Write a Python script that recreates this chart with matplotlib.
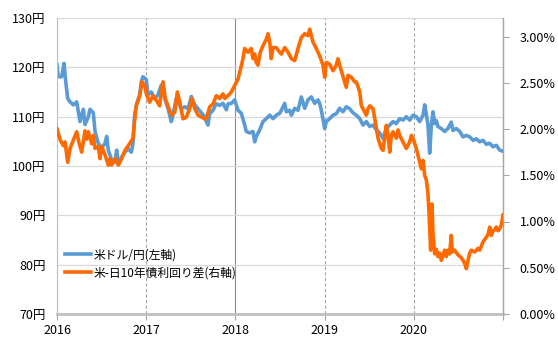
import matplotlib
matplotlib.use("Agg")
import matplotlib.pyplot as plt
import numpy as np

plt.rcParams['font.family'] = ['Noto Sans CJK JP', 'DejaVu Sans']

# 米ドル/円 (左軸) : 時点(年)と値
usd_t = [2016.000, 2016.015, 2016.053, 2016.078, 2016.098, 2016.120, 2016.146, 2016.183, 2016.221, 2016.258,
         2016.295, 2016.314, 2016.351, 2016.370, 2016.407, 2016.426, 2016.463, 2016.501, 2016.538, 2016.557,
         2016.575, 2016.613, 2016.650, 2016.669, 2016.687, 2016.725, 2016.762, 2016.799, 2016.833, 2016.852,
         2016.871, 2016.889, 2016.927, 2016.945, 2016.964, 2017.001, 2017.020, 2017.057, 2017.095, 2017.132,
         2017.169, 2017.207, 2017.244, 2017.281, 2017.300, 2017.337, 2017.356, 2017.393, 2017.432, 2017.469,
         2017.506, 2017.544, 2017.581, 2017.618, 2017.656, 2017.674, 2017.693, 2017.712, 2017.749, 2017.786,
         2017.824, 2017.861, 2017.898, 2017.917, 2017.954, 2017.992, 2018.010, 2018.029, 2018.066, 2018.104,
         2018.122, 2018.160, 2018.197, 2018.216, 2018.234, 2018.272, 2018.309, 2018.346, 2018.385, 2018.422,
         2018.459, 2018.497, 2018.515, 2018.553, 2018.571, 2018.609, 2018.627, 2018.665, 2018.702, 2018.739,
         2018.777, 2018.814, 2018.851, 2018.889, 2018.926, 2018.945, 2018.963, 2019.001, 2019.019, 2019.057,
         2019.094, 2019.131, 2019.169, 2019.206, 2019.243, 2019.281, 2019.318, 2019.355, 2019.394, 2019.430,
         2019.468, 2019.506, 2019.543, 2019.580, 2019.618, 2019.655, 2019.692, 2019.730, 2019.767, 2019.804,
         2019.842, 2019.879, 2019.916, 2019.954, 2019.991, 2020.028, 2020.066, 2020.103, 2020.122, 2020.140,
         2020.159, 2020.178, 2020.196, 2020.215, 2020.234, 2020.252, 2020.271, 2020.308, 2020.346, 2020.383,
         2020.420, 2020.439, 2020.476, 2020.515, 2020.552, 2020.589, 2020.627, 2020.664, 2020.701, 2020.739,
         2020.776, 2020.813, 2020.851, 2020.888, 2020.925, 2020.963, 2021.000]
usd_jpy = [120.5, 118.1, 118.1, 120.8, 117.1, 113.7, 113.0, 112.4, 113.0, 109.0,
           111.5, 108.4, 110.0, 111.5, 110.8, 107.0, 104.6, 103.6, 104.6, 106.0,
           103.2, 101.2, 100.8, 103.2, 100.5, 101.8, 102.8, 103.5, 102.8, 104.6,
           110.3, 112.4, 114.4, 117.1, 118.1, 117.5, 114.4, 115.0, 113.7, 114.4,
           116.4, 113.7, 111.7, 109.0, 110.3, 113.7, 113.0, 111.6, 112.0, 111.6,
           114.1, 112.4, 111.6, 110.8, 110.0, 109.0, 108.3, 110.6, 111.3, 112.6,
           112.3, 112.7, 111.4, 112.6, 112.7, 113.4, 112.4, 111.3, 110.7, 108.3,
           107.0, 106.7, 107.0, 104.9, 106.0, 107.3, 109.0, 109.6, 110.3, 109.6,
           110.3, 110.7, 111.3, 112.7, 111.0, 111.3, 110.3, 111.7, 111.3, 114.0,
           111.7, 113.4, 114.0, 112.7, 113.4, 112.7, 111.3, 107.6, 109.0, 109.6,
           110.3, 110.6, 111.7, 111.0, 112.0, 111.6, 110.8, 110.3, 109.6, 108.3,
           109.0, 108.0, 108.3, 107.3, 106.7, 105.6, 107.6, 108.3, 109.0, 108.6,
           109.6, 109.3, 110.0, 109.3, 110.3, 110.0, 109.0, 110.3, 112.4, 110.5,
           108.3, 102.6, 108.0, 111.0, 108.6, 109.2, 108.0, 107.6, 107.0, 107.6,
           108.9, 107.2, 107.6, 107.0, 105.9, 106.2, 105.9, 105.2, 105.5, 104.9,
           105.2, 104.4, 104.6, 103.9, 104.2, 103.2, 103.0]

# 米-日10年債利回り差 (右軸, %)
spread_t = [2016.000, 2016.037, 2016.071, 2016.090, 2016.120, 2016.146, 2016.183, 2016.221, 2016.247, 2016.277,
            2016.314, 2016.333, 2016.351, 2016.389, 2016.407, 2016.426, 2016.463, 2016.482, 2016.501, 2016.538,
            2016.575, 2016.594, 2016.613, 2016.650, 2016.687, 2016.725, 2016.762, 2016.799, 2016.852, 2016.871,
            2016.889, 2016.927, 2016.953, 2016.983, 2017.001, 2017.039, 2017.076, 2017.113, 2017.151, 2017.169,
            2017.188, 2017.214, 2017.244, 2017.281, 2017.320, 2017.349, 2017.376, 2017.413, 2017.450, 2017.488,
            2017.513, 2017.544, 2017.581, 2017.618, 2017.656, 2017.674, 2017.712, 2017.749, 2017.786, 2017.824,
            2017.861, 2017.880, 2017.917, 2017.954, 2017.992, 2018.029, 2018.048, 2018.085, 2018.104, 2018.141,
            2018.178, 2018.197, 2018.216, 2018.234, 2018.253, 2018.279, 2018.309, 2018.346, 2018.365, 2018.385,
            2018.402, 2018.422, 2018.459, 2018.497, 2018.515, 2018.553, 2018.590, 2018.627, 2018.665, 2018.702,
            2018.739, 2018.777, 2018.814, 2018.833, 2018.851, 2018.870, 2018.907, 2018.945, 2018.982, 2019.001,
            2019.019, 2019.057, 2019.094, 2019.131, 2019.150, 2019.187, 2019.225, 2019.243, 2019.262, 2019.299,
            2019.337, 2019.355, 2019.394, 2019.412, 2019.430, 2019.468, 2019.487, 2019.506, 2019.543, 2019.562,
            2019.599, 2019.636, 2019.655, 2019.692, 2019.711, 2019.730, 2019.748, 2019.767, 2019.804, 2019.823,
            2019.842, 2019.879, 2019.916, 2019.954, 2019.972, 2019.991, 2020.028, 2020.066, 2020.084, 2020.103,
            2020.122, 2020.140, 2020.159, 2020.170, 2020.189, 2020.204, 2020.215, 2020.234, 2020.252, 2020.271,
            2020.290, 2020.308, 2020.346, 2020.364, 2020.383, 2020.402, 2020.420, 2020.431, 2020.458, 2020.495,
            2020.532, 2020.570, 2020.589, 2020.608, 2020.627, 2020.645, 2020.683, 2020.720, 2020.739, 2020.776,
            2020.813, 2020.832, 2020.851, 2020.869, 2020.888, 2020.907, 2020.925, 2020.944, 2020.963, 2020.981,
            2021.000]
spread = [2.00, 1.88, 1.82, 1.86, 1.64, 1.79, 1.88, 1.97, 1.85, 1.75,
          1.98, 1.89, 1.97, 1.84, 1.93, 1.79, 1.81, 1.68, 1.81, 1.72,
          1.61, 1.68, 1.61, 1.68, 1.61, 1.68, 1.77, 1.82, 1.90, 2.11,
          2.25, 2.36, 2.51, 2.47, 2.38, 2.29, 2.36, 2.31, 2.25, 2.40,
          2.51, 2.33, 2.25, 2.15, 2.18, 2.40, 2.29, 2.11, 2.13, 2.22,
          2.33, 2.22, 2.15, 2.13, 2.11, 2.11, 2.24, 2.27, 2.36, 2.33,
          2.38, 2.33, 2.36, 2.40, 2.47, 2.54, 2.61, 2.76, 2.87, 2.83,
          2.87, 2.76, 2.81, 2.72, 2.69, 2.83, 2.90, 2.97, 3.03, 2.94,
          2.76, 2.88, 2.88, 2.83, 2.81, 2.88, 2.83, 2.76, 2.74, 2.87,
          2.99, 3.03, 3.01, 3.08, 3.01, 2.94, 2.87, 2.79, 2.69, 2.56,
          2.72, 2.70, 2.63, 2.69, 2.76, 2.63, 2.51, 2.45, 2.58, 2.56,
          2.51, 2.51, 2.40, 2.25, 2.22, 2.15, 2.22, 2.25, 2.22, 2.11,
          1.90, 1.79, 1.77, 2.04, 1.93, 1.75, 1.93, 1.97, 1.90, 1.99,
          1.93, 1.86, 1.79, 1.86, 1.93, 1.90, 1.79, 1.64, 1.57, 1.66,
          1.50, 1.45, 1.30, 1.10, 0.69, 1.19, 0.87, 0.65, 0.70, 0.62,
          0.66, 0.58, 0.69, 0.62, 0.69, 0.65, 0.85, 0.67, 0.69, 0.64,
          0.61, 0.55, 0.49, 0.58, 0.66, 0.69, 0.67, 0.71, 0.69, 0.78,
          0.83, 0.86, 0.94, 0.85, 0.90, 0.91, 0.94, 0.90, 0.92, 0.96,
          1.07]

years = [2016, 2017, 2018, 2019, 2020, 2021]
year_labels = ["2016", "2017", "2018", "2019", "2020", ""]
yen_ticks = [70, 80, 90, 100, 110, 120, 130]
pct_ticks = [0.0, 0.5, 1.0, 1.5, 2.0, 2.5, 3.0]

fig = plt.figure(figsize=(5.58, 3.39), dpi=100)
ax = fig.add_axes([57 / 558, 25 / 339, 446 / 558, 296 / 339])
ax2 = ax.twinx()

l1, = ax.plot(usd_t, usd_jpy, color="#5B9BD5", lw=2.6, solid_joinstyle="round")
l2, = ax2.plot(spread_t, spread, color="#FF6A00", lw=2.6, solid_joinstyle="round")

ax.set_xlim(2016, 2021)
ax.set_ylim(70, 130)
ax2.set_ylim(0, 3.2)

ax.set_xticks(years)
ax.set_xticklabels(year_labels, fontsize=9)
ax.set_yticks(yen_ticks)
ax.set_yticklabels([f"{v}円" for v in yen_ticks], fontsize=9)
ax2.set_yticks(pct_ticks)
ax2.set_yticklabels([f"{v:.2f}%" for v in pct_ticks], fontsize=9)

# grid: horizontal solid, vertical dashed
ax.yaxis.grid(True, color="#D9D9D9", lw=0.9)
ax.xaxis.grid(True, color="#A6A6A6", lw=0.8, linestyle=(0, (3, 2)))
ax.get_xgridlines()[2].set_linestyle("-")
ax.get_xgridlines()[2].set_color("#8C8C8C")
ax.set_axisbelow(True)

for a in (ax, ax2):
    a.spines["top"].set_visible(False)
ax.spines["left"].set_color("#BFBFBF")
ax.spines["left"].set_linewidth(0.8)
ax.spines["bottom"].set_color("#BFBFBF")
ax.spines["bottom"].set_linewidth(2.0)
ax2.spines["left"].set_visible(False)
ax2.spines["bottom"].set_visible(False)
ax2.spines["right"].set_color("#A6A6A6")
ax2.spines["right"].set_linewidth(0.8)

ax.tick_params(axis="y", length=0, pad=8, colors="black")
ax.tick_params(axis="x", length=4, color="#A6A6A6", pad=3)
ax2.tick_params(axis="y", length=4, color="#A6A6A6", pad=8)

ax2.legend([l1, l2], ["米ドル/円(左軸)", "米-日10年債利回り差(右軸)"],
           loc="upper left", bbox_to_anchor=(0.018, 0.222), frameon=False,
           fontsize=8.5, handlelength=2.2, handletextpad=0.2, labelspacing=0.45,
           borderaxespad=0, borderpad=0)

fig.savefig("out.png", dpi=100)
